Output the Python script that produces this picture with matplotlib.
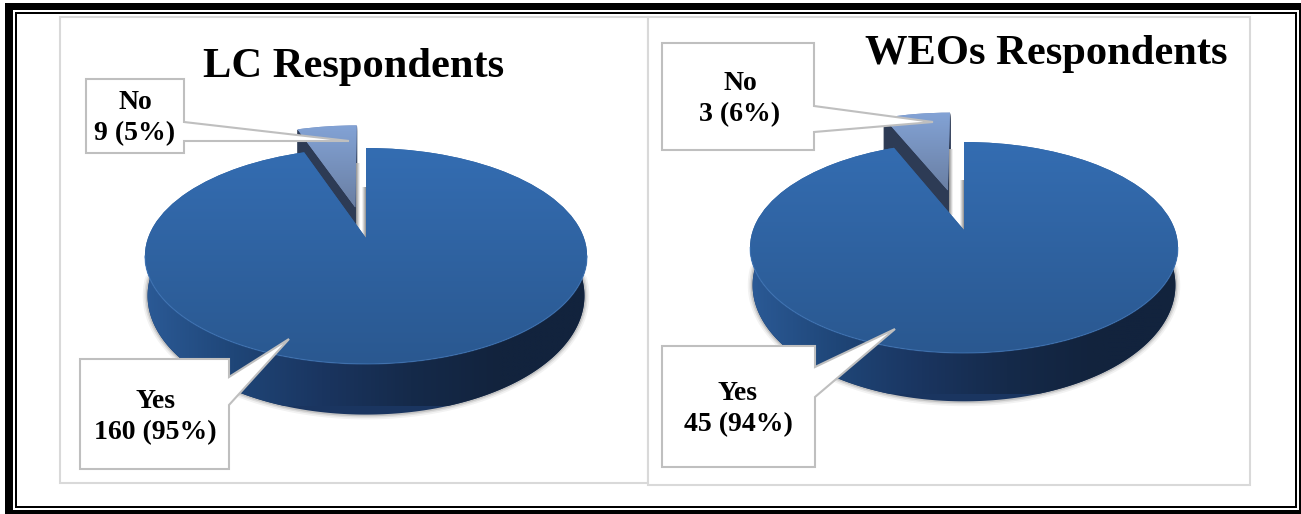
import matplotlib
matplotlib.use("Agg")
import matplotlib.pyplot as plt
import numpy as np
from matplotlib.colors import LinearSegmentedColormap
from matplotlib.patches import Polygon, Rectangle, Wedge
from matplotlib.transforms import Transform

# order is No, Yes so that No starts at 12 o'clock
labels = ["No", "Yes"]
lc_values = [9, 160]
lc_percents = [5, 95]
weo_values = [3, 45]
weo_percents = [6, 94]

W, H = 1301, 514

TOP_CMAP = LinearSegmentedColormap.from_list("top", ["#346DB2", "#2A5890"])
SIDE_CMAP = LinearSegmentedColormap.from_list(
    "side", ["#2B5A96", "#1F4678", "#1A3560", "#152A4A", "#12233D", "#12233D"])
NO_CMAP = LinearSegmentedColormap.from_list("no", ["#83A3D6", "#6A7FA3"])
STRIP_CMAP = LinearSegmentedColormap.from_list("strip", ["#8E8E8E", "#FFFFFF"])


class Tilt(Transform):
    """Unit circle on a table seen in perspective, mapped to pixels."""
    input_dims = output_dims = 2
    is_separable = False
    has_inverse = False

    def __init__(self, cx, cy, a, b, c):
        super().__init__()
        self.cx, self.cy, self.a, self.b, self.c = cx, cy, a, b, c

    def transform_non_affine(self, values):
        values = np.asarray(values, dtype=float)
        u, v = values[:, 0], values[:, 1]
        w = 1 + self.c * v
        return np.column_stack([self.cx + self.b * u / w, self.cy - self.a * v / w])


def circle(tilt, t1, t2, n=200):
    t = np.radians(np.linspace(t1, t2, n))
    return tilt.transform_non_affine(np.column_stack([np.cos(t), np.sin(t)]))


def gradient(ax, cmap, box, clip, zorder, horizontal=False):
    l, r, t, b = box
    g = np.linspace(0, 1, 256)
    g = g.reshape(1, -1) if horizontal else g.reshape(-1, 1)
    im = ax.imshow(g, cmap=cmap, extent=[l, r, b, t], origin="upper" if not horizontal else "lower",
                   aspect="auto", zorder=zorder, interpolation="bilinear")
    if clip is not None:
        im.set_clip_path(clip)
    return im


def draw_pie(ax, values, explode, cx, cy, a, b, c, depth, strips):
    tilt = Tilt(cx, cy, a, b, c)
    floor = Tilt(cx, cy + depth, a * 1.1, b * 0.988, c)
    wedges, _ = ax.pie(values, startangle=90, explode=[explode, 0], radius=1,
                       colors=["#7890BE", "#2F62A0"])
    no, yes = wedges
    no.set_transform(tilt + ax.transData)
    yes.set_transform(tilt + ax.transData)
    no.set(linewidth=0, zorder=4)
    yes.set(linewidth=0, zorder=6)

    # rim, from one widest point of the disc round the front to the other
    start = 180 + np.degrees(np.arcsin(c))
    end = 540 - start
    rim = circle(tilt, start, end)
    low = circle(floor, start - 8, end + 8)

    # soft shadow round the bottom of the rim
    for lw, alpha in [(7, 0.05), (4.5, 0.08), (2.5, 0.12)]:
        ax.plot(low[:, 0], low[:, 1], color="black", lw=lw, alpha=alpha, zorder=1,
                solid_capstyle="round")

    side = Polygon(np.vstack([rim, low[::-1]]), closed=True, fc="#1A3560", ec="none", zorder=2)
    ax.add_patch(side)
    gradient(ax, SIDE_CMAP, (cx - b * 1.02, cx + b * 1.02, cy - a, cy + a * 1.6), side, 2.5, True)

    # dark wall of the pulled out slice
    mid = np.radians((no.theta1 + no.theta2) / 2)
    center = (explode * np.cos(mid), explode * np.sin(mid))
    for d in range(1, 41):
        wall = Wedge(center, 1, no.theta1, no.theta2, fc="#2D3B55", ec="#2D3B55", lw=0.5, zorder=3,
                     transform=Tilt(cx, cy + d, a, b, c) + ax.transData)
        ax.add_patch(wall)

    px_box = tilt.transform_non_affine(no.get_path().vertices)
    gradient(ax, NO_CMAP, (px_box[:, 0].min(), px_box[:, 0].max(), px_box[:, 1].min(), px_box[:, 1].max()),
             no, 4.5)

    # faint shadows inside the notch
    for x0, x1, y0, y1, flip in strips:
        gradient(ax, STRIP_CMAP.reversed() if flip else STRIP_CMAP, (x0, x1, y0, y1), None, 5, True)

    gradient(ax, TOP_CMAP, (cx - b * 1.02, cx + b * 1.02, cy - a * 0.86, cy + a * 1.2), yes, 6.5)
    ax.plot(rim[:, 0], rim[:, 1], color="#4A82C6", lw=0.9, alpha=0.5, zorder=7)


def callout(ax, box, pointer, text, text_xy):
    x0, x1, y0, y1 = box
    (px, py0), tip, (_, py1) = pointer
    pts = [(x0, y0), (x1, y0), (px, py0), tip, (px, py1), (x1, y1), (x0, y1)]
    ax.add_patch(Polygon(pts, closed=True, fc="white", ec="#BFBFBF", lw=1.5, zorder=8,
                         joinstyle="miter"))
    ax.text(text_xy[0], text_xy[1], text, ha="center", va="center", fontsize=20, fontweight="bold",
            family="Liberation Serif", color="black", linespacing=1.3, zorder=9)


def fmt(i, values, percents):
    return f"{labels[i]}\n{values[i]} ({percents[i]}%)"


fig = plt.figure(figsize=(W / 100, H / 100), dpi=100, facecolor="white")
ax = fig.add_axes([0, 0, 1, 1])

draw_pie(ax, lc_values, 0.31, 366, 238, 105, 218, 1 / 6, 38,
         [(356, 360, 163, 232, False), (362, 366, 187, 238, True)])
draw_pie(ax, weo_values, 0.42, 964, 230, 102.6, 211, 0.166, 36,
         [(949, 953, 149, 215, False), (960, 964, 180, 230, True)])

# double page frame, runs off the right and bottom of the picture
for (x0, y0, x1, y1), col, z in [((5, 3, 1310, 520), "black", -5), ((13, 10, 1299, 510), "white", -4),
                                 ((15, 12, 1297, 508), "black", -3), ((17, 14, 1295, 506), "white", -2)]:
    ax.add_patch(Rectangle((x0, y0), x1 - x0, y1 - y0, fc=col, ec="none", zorder=z))

ax.add_patch(Rectangle((60, 16.5), 588, 466.5, fc="none", ec="#D9D9D9", lw=1.5, zorder=-1))
ax.add_patch(Rectangle((648, 17), 602, 468, fc="white", ec="#D9D9D9", lw=1.5, zorder=-1))

ax.text(354, 77, "LC Respondents", ha="center", va="baseline", fontsize=30.6, fontweight="bold",
        family="Liberation Serif", zorder=9)
ax.text(1046, 64, "WEOs Respondents", ha="center", va="baseline", fontsize=30.6, fontweight="bold",
        family="Liberation Serif", zorder=9)

callout(ax, (86, 184, 79, 153), [(184, 122), (349, 141), (184, 141)], fmt(0, lc_values, lc_percents), (135, 118))
callout(ax, (80, 229, 359, 469), [(229, 377), (289, 339), (229, 405)], fmt(1, lc_values, lc_percents), (155, 417))
callout(ax, (662, 814, 43, 150), [(814, 106), (933, 122), (814, 132)], fmt(0, weo_values, weo_percents), (740, 99))
callout(ax, (662, 815, 346, 467), [(815, 367), (895, 329), (815, 397)], fmt(1, weo_values, weo_percents), (738, 409))

ax.set_aspect("auto")
ax.set_xlim(0, W)
ax.set_ylim(H, 0)
ax.axis("off")
fig.savefig("out.png", dpi=100)
plt.close(fig)
